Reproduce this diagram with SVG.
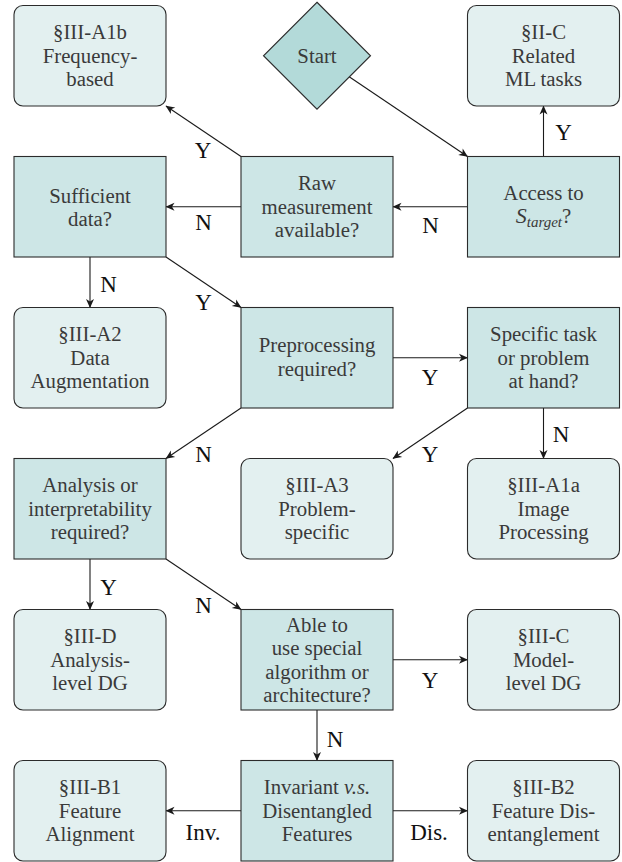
<svg xmlns="http://www.w3.org/2000/svg" width="622" height="862" viewBox="0 0 622 862" font-family="Liberation Serif, DejaVu Serif, serif">
<style>
.dec{fill:#cde6e6;stroke:#2b2b2b;stroke-width:1.1}
.res{fill:#e3f0f0;stroke:#2b2b2b;stroke-width:1.1}
.start{fill:#b3dad9;stroke:#2b2b2b;stroke-width:1.1}
.t{font-size:20.8px;fill:#3a3a3a;text-anchor:middle}
.lb{font-size:23px;fill:#111;text-anchor:middle}
.c{stroke:#1a1a1a;stroke-width:1.1;fill:none;marker-end:url(#ah)}
</style>
<defs>
<marker id="ah" markerUnits="userSpaceOnUse" markerWidth="12" markerHeight="10" viewBox="-10 -5 11 10" refX="0" refY="0" orient="auto">
<path d="M0.5,0 L-8.5,-4 L-6,0 L-8.5,4 Z" fill="#1a1a1a"/>
</marker>
</defs>
<g id="connectors">
<line class="c" x1="348.8" y1="76.5" x2="467.5" y2="156.5"/>
<line class="c" x1="543.5" y1="156.5" x2="543.5" y2="106"/>
<line class="c" x1="467.5" y1="206.75" x2="393" y2="206.75"/>
<line class="c" x1="241" y1="156.5" x2="166" y2="106"/>
<line class="c" x1="241" y1="206.75" x2="166" y2="206.75"/>
<line class="c" x1="90" y1="257" x2="90" y2="307.5"/>
<line class="c" x1="166" y1="257" x2="241" y2="307.5"/>
<line class="c" x1="393" y1="357.75" x2="467.5" y2="357.75"/>
<line class="c" x1="543.5" y1="408" x2="543.5" y2="458.5"/>
<line class="c" x1="467.5" y1="408" x2="393" y2="458.5"/>
<line class="c" x1="241" y1="408" x2="166" y2="458.5"/>
<line class="c" x1="90" y1="559" x2="90" y2="609.5"/>
<line class="c" x1="166" y1="559" x2="241" y2="609.5"/>
<line class="c" x1="393" y1="659.75" x2="467.5" y2="659.75"/>
<line class="c" x1="317" y1="710" x2="317" y2="760.5"/>
<line class="c" x1="241" y1="810.75" x2="166" y2="810.75"/>
<line class="c" x1="393" y1="810.75" x2="467.5" y2="810.75"/>
<text class="lb" x="203" y="158">Y</text>
<text class="lb" x="203.5" y="230">N</text>
<text class="lb" x="430.5" y="233">N</text>
<text class="lb" x="563.5" y="140">Y</text>
<text class="lb" x="108.5" y="292">N</text>
<text class="lb" x="203.5" y="310">Y</text>
<text class="lb" x="203.5" y="462">N</text>
<text class="lb" x="430" y="385">Y</text>
<text class="lb" x="561" y="442">N</text>
<text class="lb" x="430" y="462">Y</text>
<text class="lb" x="108.5" y="595">Y</text>
<text class="lb" x="203.5" y="613">N</text>
<text class="lb" x="203" y="840">Inv.</text>
<text class="lb" x="430" y="688">Y</text>
<text class="lb" x="335" y="747">N</text>
<text class="lb" x="429" y="840">Dis.</text>
</g>
<g id="freq">
<rect class="res" x="14" y="5.5" width="152" height="100.5" rx="9"/>
<text class="t" x="90" y="39.25">§III-A1b</text>
<text class="t" x="90" y="62.75">Frequency-</text>
<text class="t" x="90" y="86.25">based</text>
</g>
<g id="start">
<polygon class="start" points="317,2.25 370.5,55.75 317,109.25 263.5,55.75"/>
<text class="t" x="317" y="63">Start</text>
</g>
<g id="related">
<rect class="res" x="467.5" y="5.5" width="152" height="100.5" rx="9"/>
<text class="t" x="543.5" y="39.25">§II-C</text>
<text class="t" x="543.5" y="62.75">Related</text>
<text class="t" x="543.5" y="86.25">ML tasks</text>
</g>
<g id="sufficient">
<rect class="dec" x="14" y="156.5" width="152" height="100.5"/>
<text class="t" x="90" y="202.5">Sufficient</text>
<text class="t" x="90" y="226">data?</text>
</g>
<g id="raw">
<rect class="dec" x="241" y="156.5" width="152" height="100.5"/>
<text class="t" x="317" y="190.25">Raw</text>
<text class="t" x="317" y="213.75">measurement</text>
<text class="t" x="317" y="237.25">available?</text>
</g>
<g id="access">
<rect class="dec" x="467.5" y="156.5" width="152" height="100.5"/>
<text class="t" x="543.5" y="200">Access to</text>
<text class="t" x="543.5" y="223"><tspan font-style="italic" font-size="22px">S</tspan><tspan font-style="italic" font-size="15px" dy="4">target</tspan><tspan dy="-4">?</tspan></text>
</g>
<g id="dataaug">
<rect class="res" x="14" y="307.5" width="152" height="100.5" rx="9"/>
<text class="t" x="90" y="341.25">§III-A2</text>
<text class="t" x="90" y="364.75">Data</text>
<text class="t" x="90" y="388.25">Augmentation</text>
</g>
<g id="preproc">
<rect class="dec" x="241" y="307.5" width="152" height="100.5"/>
<text class="t" x="317" y="352">Preprocessing</text>
<text class="t" x="317" y="375.5">required?</text>
</g>
<g id="specific">
<rect class="dec" x="467.5" y="307.5" width="152" height="100.5"/>
<text class="t" x="543.5" y="341.25">Specific task</text>
<text class="t" x="543.5" y="364.75">or problem</text>
<text class="t" x="543.5" y="388.25">at hand?</text>
</g>
<g id="analysis">
<rect class="dec" x="14" y="458.5" width="152" height="100.5"/>
<text class="t" x="90" y="492.25">Analysis or</text>
<text class="t" x="90" y="515.75">interpretability</text>
<text class="t" x="90" y="539.25">required?</text>
</g>
<g id="problemspecific">
<rect class="res" x="241" y="458.5" width="152" height="100.5" rx="9"/>
<text class="t" x="317" y="492.25">§III-A3</text>
<text class="t" x="317" y="515.75">Problem-</text>
<text class="t" x="317" y="539.25">specific</text>
</g>
<g id="imageproc">
<rect class="res" x="467.5" y="458.5" width="152" height="100.5" rx="9"/>
<text class="t" x="543.5" y="492.25">§III-A1a</text>
<text class="t" x="543.5" y="515.75">Image</text>
<text class="t" x="543.5" y="539.25">Processing</text>
</g>
<g id="analysislevel">
<rect class="res" x="14" y="609.5" width="152" height="100.5" rx="9"/>
<text class="t" x="90" y="643.25">§III-D</text>
<text class="t" x="90" y="666.75">Analysis-</text>
<text class="t" x="90" y="690.25">level DG</text>
</g>
<g id="able">
<rect class="dec" x="241" y="609.5" width="152" height="100.5"/>
<text class="t" x="317" y="631.5">Able to</text>
<text class="t" x="317" y="655">use special</text>
<text class="t" x="317" y="678.5">algorithm or</text>
<text class="t" x="317" y="702">architecture?</text>
</g>
<g id="modellevel">
<rect class="res" x="467.5" y="609.5" width="152" height="100.5" rx="9"/>
<text class="t" x="543.5" y="643.25">§III-C</text>
<text class="t" x="543.5" y="666.75">Model-</text>
<text class="t" x="543.5" y="690.25">level DG</text>
</g>
<g id="alignment">
<rect class="res" x="14" y="760.5" width="152" height="100.5" rx="9"/>
<text class="t" x="90" y="794.25">§III-B1</text>
<text class="t" x="90" y="817.75">Feature</text>
<text class="t" x="90" y="841.25">Alignment</text>
</g>
<g id="invariant">
<rect class="dec" x="241" y="760.5" width="152" height="100.5"/>
<text class="t" x="317" y="794.25">Invariant <tspan font-style="italic">v.s.</tspan></text>
<text class="t" x="317" y="817.75">Disentangled</text>
<text class="t" x="317" y="841.25">Features</text>
</g>
<g id="disentanglement">
<rect class="res" x="467.5" y="760.5" width="152" height="100.5" rx="9"/>
<text class="t" x="543.5" y="794.25">§III-B2</text>
<text class="t" x="543.5" y="817.75">Feature Dis-</text>
<text class="t" x="543.5" y="841.25">entanglement</text>
</g>
</svg>
